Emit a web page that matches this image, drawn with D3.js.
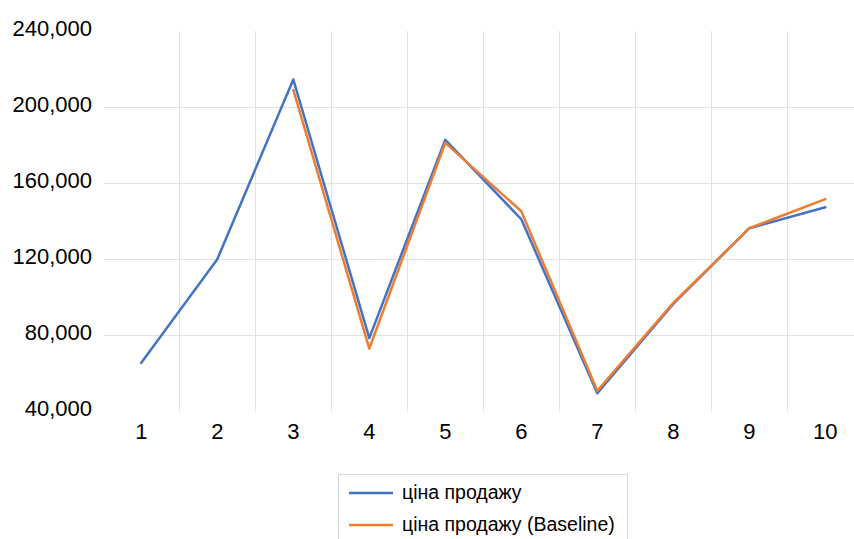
<!DOCTYPE html>
<html>
<head>
<meta charset="utf-8">
<script src="https://cdn.jsdelivr.net/npm/d3@7/dist/d3.min.js"></script>
<style>
  html, body { margin: 0; padding: 0; background: #fff; }
  svg { display: block; }
  text { font-family: "Liberation Sans", Arial, sans-serif; fill: #000; }
</style>
</head>
<body>
<svg id="chart" width="854" height="539"></svg>
<script>
const categories = ["1", "2", "3", "4", "5", "6", "7", "8", "9", "10"];
const salePrice = [65500, 120000, 214500, 78500, 182800, 141000, 49500, 96500, 136300, 147300];
const salePriceBaseline = [null, null, 209000, 73000, 181200, 145200, 50800, 97000, 136300, 151600];
const yTicks = [40000, 80000, 120000, 160000, 200000, 240000];
const seriesNames = ["ціна продажу", "ціна продажу (Baseline)"];
const seriesColors = ["#4472C4", "#ED7D31"];

const svg = d3.select("#chart");
const x = d3.scaleBand().domain(categories).range([103.3, 863.3]).padding(0);
const y = d3.scaleLinear().domain([40000, 240000]).range([411.3, 31]);
const cx = c => x(c) + x.bandwidth() / 2;

// gridlines
const grid = svg.append("g");
grid.selectAll("line.h").data(yTicks.filter(t => t !== 40000 && t !== 240000)).enter()
  .append("line").attr("class", "h")
  .attr("x1", 103.3).attr("x2", 863.3)
  .attr("y1", d => Math.round(y(d)) + 0.5).attr("y2", d => Math.round(y(d)) + 0.5)
  .attr("stroke", "#e3e3e3").attr("stroke-width", 1);
grid.selectAll("line.v").data(categories).enter()
  .append("line").attr("class", "v")
  .attr("x1", d => Math.round(x(d) + x.bandwidth()) + 0.5)
  .attr("x2", d => Math.round(x(d) + x.bandwidth()) + 0.5)
  .attr("y1", y(240000)).attr("y2", y(40000))
  .attr("stroke", "#e3e3e3").attr("stroke-width", 1);

// y axis labels
const yAxis = d3.axisLeft(y).tickValues(yTicks).tickSize(0).tickPadding(0)
  .tickFormat(d3.format(","));
const yg = svg.append("g").attr("transform", "translate(92,0)").call(yAxis);
yg.select(".domain").remove();
yg.selectAll("text").attr("font-size", 22).attr("dy", "0.32em")
  .attr("transform", "translate(0,-3)")
  .style("font-family", "'Liberation Sans', Arial, sans-serif").attr("fill", "#000");

// x axis labels
const xAxis = d3.axisBottom(x).tickSize(0).tickPadding(0);
const xg = svg.append("g").attr("transform", "translate(0,423)").call(xAxis);
xg.select(".domain").remove();
xg.selectAll("text").attr("font-size", 22).attr("dy", "0.71em")
  .style("font-family", "'Liberation Sans', Arial, sans-serif").attr("fill", "#000");

// lines
const line = d3.line()
  .defined(d => d.v !== null)
  .x(d => cx(d.c)).y(d => y(d.v));
[salePrice, salePriceBaseline].forEach((vals, i) => {
  const data = categories.map((c, j) => ({ c, v: vals[j] }));
  svg.append("path").datum(data)
    .attr("d", line)
    .attr("fill", "none")
    .attr("stroke", seriesColors[i])
    .attr("stroke-width", 2.5)
    .attr("stroke-linejoin", "round")
    .attr("stroke-linecap", "round");
});

// legend
const lg = svg.append("g");
lg.append("rect").attr("x", 338.5).attr("y", 474.5).attr("width", 289).attr("height", 80)
  .attr("fill", "#fff").attr("stroke", "#d9d9d9").attr("stroke-width", 1);
seriesNames.forEach((name, i) => {
  const yy = 493 + i * 32;
  lg.append("line").attr("x1", 349).attr("x2", 393).attr("y1", yy).attr("y2", yy)
    .attr("stroke", seriesColors[i]).attr("stroke-width", 2.5);
  lg.append("text").attr("x", 402).attr("y", yy).attr("dy", "0.32em")
    .attr("font-size", 19.5).text(name);
});
</script>
</body>
</html>
